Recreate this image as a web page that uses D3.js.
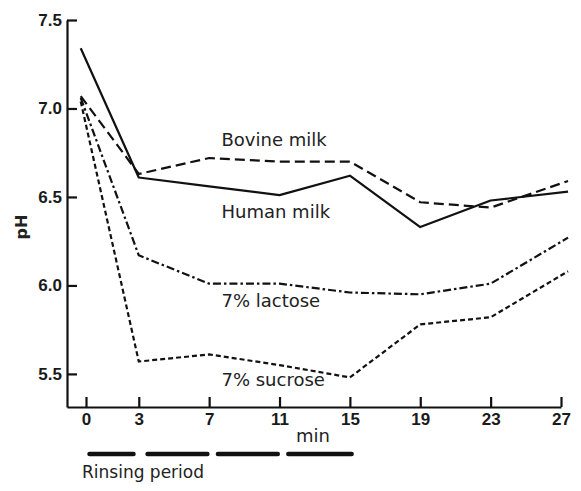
<!DOCTYPE html>
<html>
<head>
<meta charset="utf-8">
<script src="https://cdn.jsdelivr.net/npm/d3@7"></script>
<style>
  body { margin: 0; background: #fff; }
  svg { display: block; font-family: "DejaVu Sans", sans-serif; }
  .axis path, .axis line { stroke: #111; stroke-width: 2.2; }
  .axis text { font-size: 17px; font-weight: bold; fill: #1a1a1a; }
  .lbl { font-size: 18px; fill: #222; }
</style>
</head>
<body>
<svg id="chart"></svg>
<script>
// minutes (first point sits a little left of 0 in the original)
const times = [-0.3, 3, 7, 11, 15, 19, 23, 27.4]
const humanMilk = [7.34, 6.61, 6.56, 6.51, 6.62, 6.33, 6.48, 6.53]
const bovineMilk = [7.07, 6.63, 6.72, 6.70, 6.70, 6.47, 6.44, 6.59]
const lactose = [7.06, 6.17, 6.01, 6.01, 5.96, 5.95, 6.01, 6.27]
const sucrose = [7.04, 5.57, 5.61, 5.55, 5.48, 5.78, 5.82, 6.08]
const xTicks = [0, 3, 7, 11, 15, 19, 23, 27]
const yTicks = [5.5, 6.0, 6.5, 7.0, 7.5]
const rinsing = [[0.2, 2.7], [3.5, 6.9], [7.5, 10.9], [11.5, 15.1]]

const width = 581, height = 491

const svg = d3.select('#chart').attr('width', width).attr('height', height)

const x = d3.scaleLinear().domain([-1.08, 27]).range([67, 561])
const y = d3.scaleLinear().domain([5.313, 7.5]).range([407, 20])

// axes
svg.append('g')
  .attr('class', 'axis')
  .attr('transform', `translate(0,${y(5.313)})`)
  .call(d3.axisBottom(x).tickValues(xTicks).tickSizeInner(-10).tickSizeOuter(0).tickPadding(6))

svg.append('g')
  .attr('class', 'axis')
  .attr('transform', `translate(${x(-1.08)},0)`)
  .call(d3.axisLeft(y).tickValues(yTicks).tickFormat(d3.format('.1f')).tickSizeInner(-10).tickSizeOuter(0).tickPadding(5))

// series
const series = [
  { name: 'Human milk', values: humanMilk, dash: null },
  { name: 'Bovine milk', values: bovineMilk, dash: '10,5' },
  { name: '7% lactose', values: lactose, dash: '8,3,2.5,3' },
  { name: '7% sucrose', values: sucrose, dash: '5,3' }
]

const line = d3.line()
  .x((d, i) => x(times[i]))
  .y(d => y(d))

svg.append('g').selectAll('path')
  .data(series)
  .enter().append('path')
  .attr('d', d => line(d.values))
  .attr('fill', 'none')
  .attr('stroke', '#111')
  .attr('stroke-width', 2.2)
  .attr('stroke-linejoin', 'round')
  .attr('stroke-dasharray', d => d.dash)

// series labels
const labels = [
  { text: 'Bovine milk', t: 7.7, v: 6.79 },
  { text: 'Human milk', t: 7.7, v: 6.38 },
  { text: '7% lactose', t: 7.7, v: 5.88 },
  { text: '7% sucrose', t: 7.7, v: 5.43 }
]
svg.append('g').selectAll('text')
  .data(labels)
  .enter().append('text')
  .attr('class', 'lbl')
  .attr('x', d => x(d.t))
  .attr('y', d => y(d.v))
  .text(d => d.text)

// x-axis title
svg.append('text')
  .attr('class', 'lbl')
  .attr('x', x(12.9))
  .attr('y', 442)
  .attr('text-anchor', 'middle')
  .text('min')

// y-axis title
svg.append('text')
  .attr('class', 'lbl')
  .attr('transform', 'translate(27,227) rotate(-90)')
  .attr('text-anchor', 'middle')
  .style('font-weight', 'bold')
  .style('font-size', '16px')
  .text('pH')

// rinsing period bars
svg.append('g').selectAll('line')
  .data(rinsing)
  .enter().append('line')
  .attr('x1', d => x(d[0]))
  .attr('x2', d => x(d[1]))
  .attr('y1', 454)
  .attr('y2', 454)
  .attr('stroke', '#111')
  .attr('stroke-width', 4.5)
  .attr('stroke-linecap', 'round')

svg.append('text')
  .attr('class', 'lbl')
  .attr('x', 82)
  .attr('y', 478)
  .style('font-size', '17px')
  .text('Rinsing period')
</script>
</body>
</html>
